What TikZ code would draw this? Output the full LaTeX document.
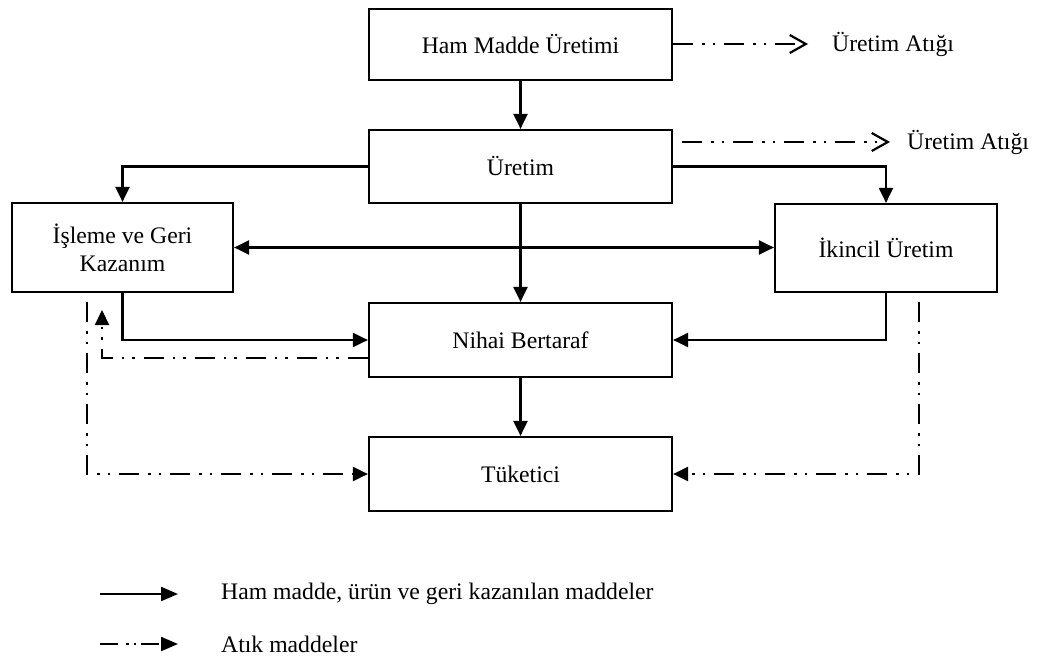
\documentclass[tikz,border=0pt]{standalone}
\usepackage{fontspec}
\setmainfont{Liberation Serif}
\usetikzlibrary{arrows.meta}
\newcommand{\mainf}{\fontsize{23.7}{28}\selectfont}
\begin{document}
\begin{tikzpicture}[x=1pt,y=-1pt,
  box/.style={draw, line width=2.2pt, inner sep=0pt, align=center, font=\mainf},
  lbl/.style={inner sep=0pt, anchor=west, font=\mainf},
  flow/.style={line width=2.2pt, -{Triangle[length=15pt,width=14pt]}},
  biflow/.style={line width=2.2pt, {Triangle[length=15pt,width=14pt]}-{Triangle[length=15pt,width=14pt]}},
  wastepat/.style={line width=2.2pt, dash pattern=on 20pt off 9pt on 2.5pt off 8pt on 2.5pt off 9pt},
  waste/.style={wastepat, -{Triangle[length=15pt,width=14pt]}},
  wasteout/.style={wastepat, -{Straight Barb[length=16pt,width=18pt]}},
  legwaste/.style={line width=2.2pt, dash pattern=on 18pt off 8pt on 2.5pt off 5pt on 2.5pt off 5pt, -{Triangle[length=17pt,width=14pt]}}
]
\useasboundingbox (0,0) rectangle (1038,666);

\node[box, minimum width=303pt, minimum height=71pt] (hm) at (520.5,44.5) {Ham Madde Üretimi};
\node[box, minimum width=303pt, minimum height=73pt] (ur) at (520.5,166.5) {Üretim};
\node[box, minimum width=221pt, minimum height=89pt] (is) at (122.5,247.5) {İşleme ve Geri\\Kazanım};
\node[box, minimum width=222pt, minimum height=88pt] (ik) at (886,248) {İkincil Üretim};
\node[box, minimum width=303pt, minimum height=74pt] (nb) at (520.5,340) {Nihai Bertaraf};
\node[box, minimum width=303pt, minimum height=74pt] (tk) at (520.5,474) {Tüketici};

\node[lbl] (wt1) at (832,44) {Üretim Atığı};
\node[lbl] (wt2) at (907,142) {Üretim Atığı};

% solid flows
\draw[flow] (hm.south) -- (ur.north);
\draw[flow] (ur.west) -| (is.north);
\draw[flow] (ur.east) -| (ik.north);
\draw[biflow] (is.east) -- (is.east -| ik.west);
\draw[flow] (ur.south) -- (nb.north);
\draw[flow] (is.south) |- (nb.west);
\draw[flow] (ik.south) |- (nb.east);
\draw[flow] (nb.south) -- (tk.north);

% waste flows
\coordinate (w1) at (808,44);
\coordinate (w2s) at (682,142);
\coordinate (w2) at (890,142);
\draw[wasteout] (hm.east |- w1) -- (w1);
\draw[wasteout] (w2s) -- (w2);

\coordinate (a1) at (102,310);
\draw[waste] ([yshift=-18pt]nb.west) -| (a1);
\coordinate (b1) at (87,302);
\draw[waste] (b1) |- (tk.west);
\coordinate (c1) at (919,302);
\draw[waste] (c1) |- (tk.east);

% legend
\coordinate (l1s) at (100,594);
\coordinate (l1e) at (178,594);
\coordinate (l2s) at (100,644);
\coordinate (l2e) at (178,644);
\draw[line width=2.2pt, -{Triangle[length=17pt,width=14pt]}] (l1s) -- (l1e);
\draw[legwaste] (l2s) -- (l2e);
\node[lbl] (t1) at (221,594) {Ham madde, ürün ve geri kazanılan maddeler};
\node[lbl] (t2) at (221,644) {Atık maddeler};
\end{tikzpicture}
\end{document}
